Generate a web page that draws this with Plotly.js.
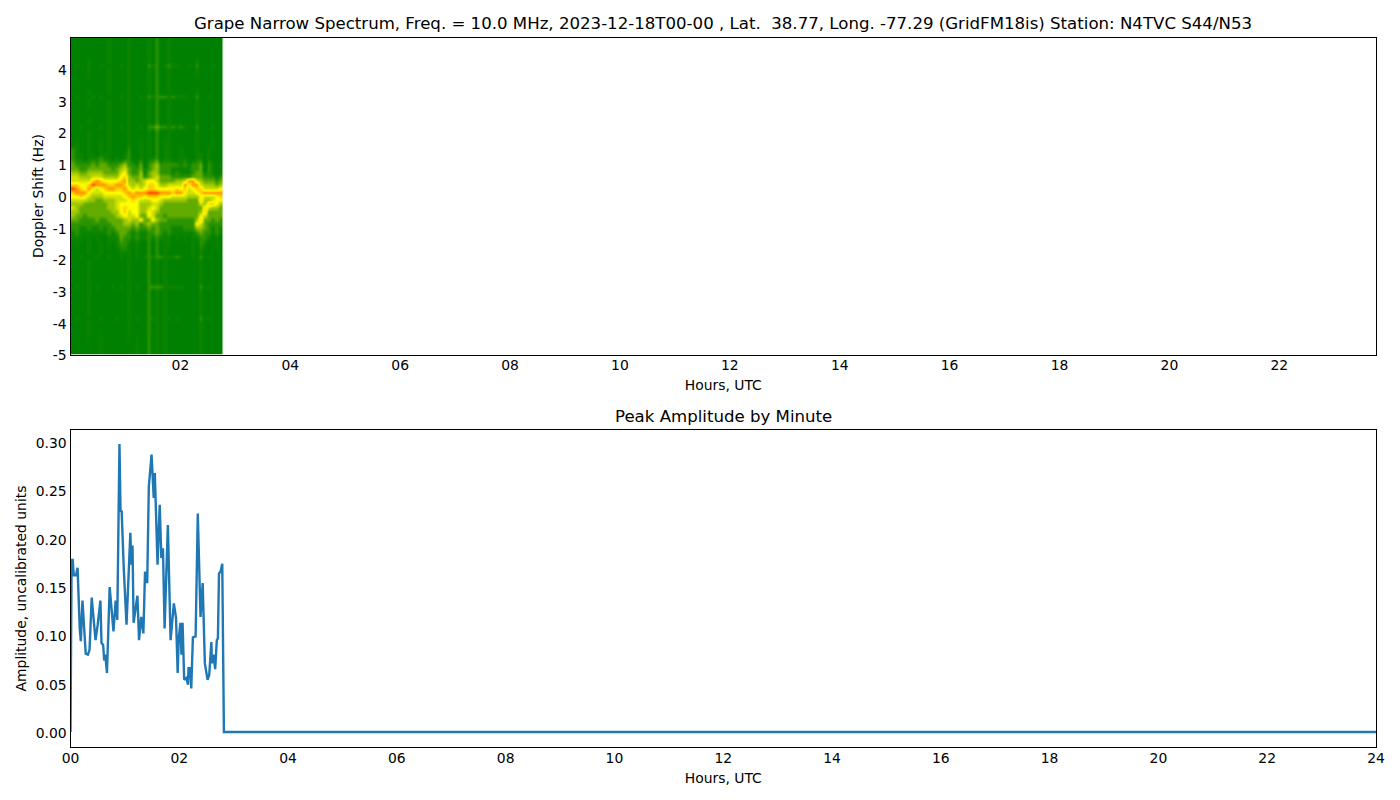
<!DOCTYPE html>
<html>
<head>
<meta charset="utf-8">
<script src="https://cdn.plot.ly/plotly-3.0.1.min.js"></script>
<style>html,body{margin:0;padding:0;background:#fff}</style>
</head>
<body>
<div id="chart" style="width:1400px;height:800px"></div>
<script>
const titleMain = "Grape Narrow Spectrum, Freq. = 10.0 MHz, 2023-12-18T00-00 , Lat.  38.77, Long. -77.29 (GridFM18is) Station: N4TVC S44/N53";
const titleAmp = "Peak Amplitude by Minute";

// Doppler rows (Hz) for the spectrogram
const dopplerHz = [5.0,4.5,4.25,4.13,4.0,3.5,3.25,3.13,3.0,2.6,2.32,2.19,2.05,1.7,1.45,1.3,1.2,1.0,0.875,0.75,0.625,0.5,0.375,0.25,0.125,0,-0.125,-0.25,-0.375,-0.5,-0.625,-0.75,-0.875,-1.0,-1.15,-1.3,-1.5,-1.78,-1.91,-2.05,-2.6,-2.74,-2.86,-3.0,-3.5,-3.72,-3.85,-3.98,-5.0];
// Spectrogram intensity level 0-9, one string per Doppler row, 38 time columns
const spectrumRows = [
"0000000001 0000100001 0200100000 00000000",
"0000000001 0000100001 0200100000 00000000",
"0000100001 0000100001 0200100000 01000000",
"0100100100 0010100002 1201211001 02000100",
"0000100001 0000100001 0200100000 01000000",
"0000000001 0000100001 0200100000 00000000",
"0000100001 0000100001 0200100000 01000000",
"0100010100 0010100102 1222121110 02001000",
"0000100001 0000100001 0200100000 01000000",
"0000000001 0000100001 0200100000 01000000",
"0000100001 0000100001 0200100000 01000000",
"0010000101 0010100102 2322121210 02000100",
"0000100001 0000100001 0200100000 01000000",
"0100100101 0000100101 0201100000 01000100",
"2100100101 0000200101 0201100100 01001000",
"2110110111 0001200101 0201100100 01101000",
"2110111211 0101200101 1201100110 01101000",
"3222232332 2234221302 3422222121 22302101",
"3322333333 2345322312 3422211111 22302101",
"4433444433 3356322413 4422212111 23312101",
"5544455544 4467433423 4533322222 33322212",
"5555578766 6678443456 6533334458 85433323",
"7766798887 7887545457 7644555586 88544434",
"9876865678 8778656567 7666667675 67755556",
"7888655566 6667878889 9988878865 56788888",
"6676544455 5556787767 7766655554 44655567",
"5555443344 4555676555 6654444443 33744566",
"4443333334 4566666444 5543333333 33547764",
"5433333334 4567666445 6533333333 33375443",
"4433333333 4467566446 5433333333 33473333",
"4332333333 3456556336 5332333333 33653333",
"3322223223 3334544633 6433222222 24733232",
"2222222222 3334434234 3322222222 26532222",
"2211211212 2333323223 2322211122 24432121",
"1211111112 1233212112 2321211111 12322121",
"1110101001 1132212112 1211101010 11221010",
"0100100101 0122101002 0201100000 10210010",
"0000100100 0011101002 0201000000 10100000",
"0010001001 0010101012 1221112100 10201000",
"0000100000 0000100002 0101000000 00100000",
"0000100000 0000100002 0101000000 00100000",
"0000100000 0000100002 0101000000 00100000",
"0100101000 1010101002 2221111100 00201000",
"0000100000 0000100002 0101000000 00100000",
"0000100000 0000100002 0101000000 00100000",
"0000100000 0000100002 0101000000 00100000",
"0100000100 0100101002 1101101000 00201000",
"0000100000 0000100002 0101000000 00100000",
"0000000100 0000001002 0101000000 00100000"
];
const spectrumZ = spectrumRows.map(r => r.replace(/ /g, "").split("").map(Number));

// Peak amplitude by minute
const ampHours = [0,0.02,0.04,0.06,0.10,0.13,0.17,0.19,0.22,0.28,0.32,0.35,0.39,0.46,0.50,0.53,0.55,0.57,0.60,0.62,0.64,0.67,0.72,0.79,0.83,0.86,0.90,0.92,0.94,0.98,1.03,1.10,1.12,1.14,1.16,1.23,1.26,1.30,1.34,1.37,1.41,1.44,1.49,1.53,1.55,1.60,1.64,1.67,1.70,1.73,1.79,1.84,1.90,1.94,1.97,1.99,2.02,2.04,2.06,2.09,2.13,2.16,2.17,2.20,2.22,2.25,2.30,2.34,2.39,2.43,2.47,2.49,2.52,2.55,2.59,2.60,2.63,2.66,2.69,2.71,2.73,2.76,2.79,2.82,24];
const ampValues = [0,0.178,0.178,0.162,0.162,0.170,0.107,0.094,0.136,0.081,0.080,0.085,0.139,0.095,0.111,0.124,0.136,0.092,0.090,0.074,0.080,0.061,0.150,0.104,0.136,0.116,0.298,0.228,0.229,0.168,0.111,0.206,0.173,0.193,0.113,0.141,0.095,0.119,0.102,0.166,0.154,0.254,0.287,0.242,0.268,0.173,0.235,0.180,0.190,0.107,0.214,0.095,0.133,0.118,0.061,0.097,0.113,0.080,0.113,0.054,0.056,0.049,0.066,0.066,0.045,0.098,0.099,0.226,0.119,0.154,0.071,0.064,0.054,0.059,0.093,0.071,0.080,0.065,0.095,0.097,0.164,0.166,0.174,0,0];

const topXVals = [2,4,6,8,10,12,14,16,18,20,22];
const topXText = ["02","04","06","08","10","12","14","16","18","20","22"];
const botXVals = [0,2,4,6,8,10,12,14,16,18,20,22,24];
const botXText = ["00","02","04","06","08","10","12","14","16","18","20","22","24"];
const topYVals = [-5,-4,-3,-2,-1,0,1,2,3,4];
const topYText = ["-5","-4","-3","-2","-1","0","1","2","3","4"];
const botYVals = [0,0.05,0.10,0.15,0.20,0.25,0.30];
const botYText = ["0.00","0.05","0.10","0.15","0.20","0.25","0.30"];

const W = 1400, H = 800;
const font = {family: "DejaVu Sans", size: 13.9, color: "#000"};
const axisBase = {showgrid:false, zeroline:false, showline:true, mirror:true, linecolor:"#000", linewidth:1,
  ticks:"", ticklen:0, tickfont:font, automargin:false};
const xBase = Object.assign({}, axisBase, {ticklabelstandoff:-2});
const yBase = Object.assign({}, axisBase, {ticklabelshift:1});

const traces = [
  {type:"heatmap", x0:0.0365, dx:0.0727, y:dopplerHz, z:spectrumZ, xaxis:"x", yaxis:"y", showscale:false, zmin:0, zmax:9, hoverinfo:"skip", zsmooth:"best",
   colorscale:[[0,"#008000"],[0.111,"#0c8500"],[0.222,"#2c9400"],[0.333,"#62ac00"],[0.444,"#a0c800"],[0.556,"#d0e000"],[0.667,"#ffff00"],[0.778,"#ffd000"],[0.889,"#ff9800"],[1,"#ff4800"]]},
  {type:"scatter", mode:"lines", x:ampHours, y:ampValues, xaxis:"x2", yaxis:"y2", line:{color:"#1f77b4", width:2.4}}
];
const layout = {
  width:W, height:H, showlegend:false, paper_bgcolor:"#fff", plot_bgcolor:"#fff",
  margin:{l:0,r:0,t:0,b:0}, font:font,
  title:{text:titleMain, font:{family:"DejaVu Sans", size:16.6, color:"#000"}, x:723/W, xanchor:"center", y:1-23/H, yanchor:"middle"},
  xaxis:Object.assign({}, xBase, {domain:[70.5/W,1376/W], range:[0,23.76], anchor:"y", tickvals:topXVals, ticktext:topXText, title:{text:"Hours, UTC", font:font, standoff:8}}),
  yaxis:Object.assign({}, yBase, {domain:[1-354.5/H,1-37.5/H], range:[-5,5], anchor:"x", tickvals:topYVals, ticktext:topYText, title:{text:"Doppler Shift (Hz)", font:font, standoff:5}}),
  xaxis2:Object.assign({}, xBase, {domain:[70.5/W,1376/W], range:[0,24], anchor:"y2", tickvals:botXVals, ticktext:botXText, title:{text:"Hours, UTC", font:font, standoff:8}}),
  yaxis2:Object.assign({}, yBase, {domain:[1-747/H,1-430/H], range:[-0.0155,0.3124], anchor:"x2", tickvals:botYVals, ticktext:botYText, title:{text:"Amplitude, uncalibrated units", font:font, standoff:5}}),
  annotations:[{text:titleAmp, xref:"paper", yref:"paper", x:723/W, y:1-416/H, xanchor:"center", yanchor:"middle", showarrow:false, font:{family:"DejaVu Sans", size:16.6, color:"#000"}}]
};
Plotly.newPlot("chart", traces, layout, {displayModeBar:false, responsive:false});
</script>
</body>
</html>
